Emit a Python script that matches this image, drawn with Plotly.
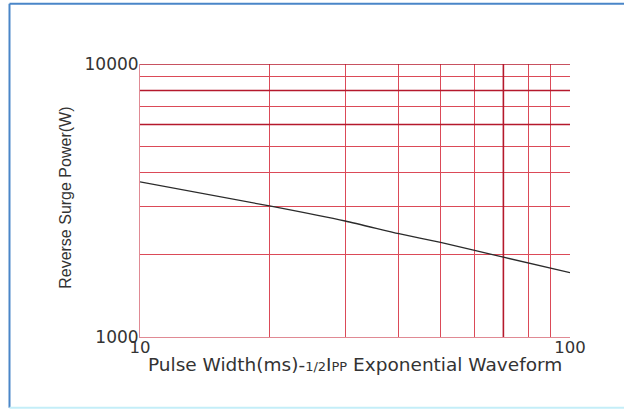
import plotly.graph_objects as go

# Data (log-log)
pulse_width_ms = [10, 20, 30, 40, 50, 70, 100]
surge_power_w = [3700, 3020, 2660, 2390, 2220, 1960, 1720]

x_grid_vals = [10, 20, 30, 40, 50, 60, 70, 80, 90, 100]
x_tick_text = ["10", "", "", "", "", "", "", "", "", "100"]
y_grid_vals = [1000, 2000, 3000, 4000, 5000, 6000, 7000, 8000, 9000, 10000]
y_tick_text = ["1000", "", "", "", "", "", "", "", "", "10000"]

x_emph = [70]
y_emph = [6000, 8000, 10000]

GRID = "#db4a58"
EMPH = "#b5192c"
FONT = "DejaVu Sans"
TXT = "#333333"

fig = go.Figure()

for xv in x_emph:
    fig.add_trace(go.Scatter(x=[xv, xv], y=[y_grid_vals[0], y_grid_vals[-1]], mode="lines",
                             line=dict(color=EMPH, width=1.6), hoverinfo="skip", showlegend=False))
for yv in y_emph:
    fig.add_trace(go.Scatter(x=[x_grid_vals[0], x_grid_vals[-1]], y=[yv, yv], mode="lines",
                             line=dict(color=EMPH, width=1.6), hoverinfo="skip", showlegend=False))

fig.add_trace(go.Scatter(x=pulse_width_ms, y=surge_power_w, mode="lines",
                         line=dict(color="#2b2b2b", width=1.3, shape="spline", smoothing=0.6),
                         showlegend=False))

fig.update_xaxes(type="log", range=[1, 2], tickvals=x_grid_vals, ticktext=x_tick_text,
                 showgrid=True, gridcolor=GRID, gridwidth=1,
                 showline=True, linecolor="#e08a94", linewidth=1, mirror=False,
                 ticks="", tickfont=dict(family=FONT, size=16.5, color=TXT),
                 zeroline=False, ticklabelstandoff=-5)
fig.update_yaxes(type="log", range=[3, 4], tickvals=y_grid_vals, ticktext=y_tick_text,
                 showgrid=True, gridcolor=GRID, gridwidth=1,
                 showline=True, linecolor="#e08a94", linewidth=1, mirror=False,
                 ticks="", tickfont=dict(family=FONT, size=17, color=TXT),
                 zeroline=False, ticklabelstandoff=-3)

fig.add_annotation(xref="paper", yref="paper", x=0.5, y=-0.1, xanchor="center", yanchor="middle",
                   showarrow=False,
                   text="Pulse Width(ms)-<span style='font-size:13px'>1/2</span>I<span style='font-size:13px'>PP</span> Exponential Waveform",
                   font=dict(family=FONT, size=18.5, color=TXT))
fig.add_annotation(xref="paper", yref="paper", x=-0.172, y=0.51, xanchor="center", yanchor="middle",
                   showarrow=False, textangle=-90, text="Reverse Surge Power(W)",
                   font=dict(family="Liberation Sans", size=16, color=TXT))

# outer frame
fig.add_shape(type="line", xref="paper", yref="paper", x0=-0.3035, x1=-0.3035, y0=-0.259, y1=1.2205,
              line=dict(color="#4a86c8", width=2))
fig.add_shape(type="line", xref="paper", yref="paper", x0=-0.3035, x1=1.2, y0=1.2205, y1=1.2205,
              line=dict(color="#4a86c8", width=2))
fig.add_shape(type="line", xref="paper", yref="paper", x0=-0.3035, x1=1.2, y0=-0.259, y1=-0.259,
              line=dict(color="#c4eef8", width=2))

fig.update_layout(width=624, height=409, margin=dict(l=140, r=54, t=64, b=72),
                  plot_bgcolor="white", paper_bgcolor="white", showlegend=False)

fig.write_html("out.html", config={"displayModeBar": False},
               post_script="document.body.style.margin='0px';")
